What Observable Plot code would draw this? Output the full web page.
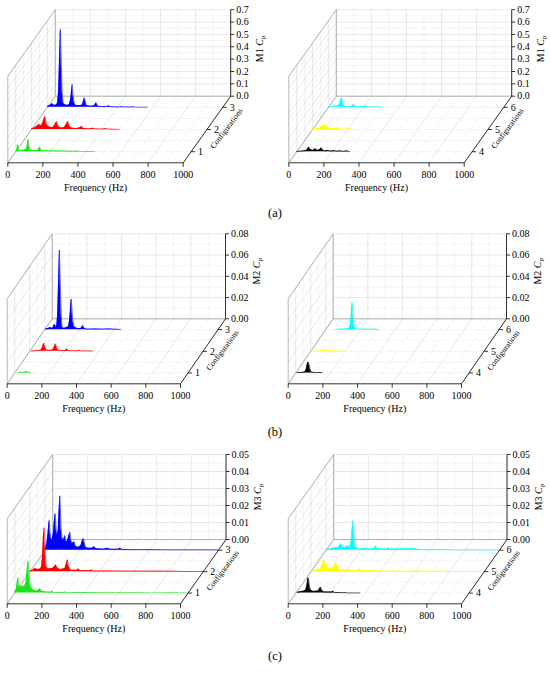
<!DOCTYPE html>
<html><head><meta charset="utf-8">
<script src="https://cdn.jsdelivr.net/npm/d3@7"></script>
<script src="https://cdn.jsdelivr.net/npm/@observablehq/plot@0.6"></script>
<style>
body{margin:0;background:#fff;}
#page{position:relative;width:550px;height:673px;background:#fff;font-family:"Liberation Serif","Times New Roman",serif;}
.pl{position:absolute;}
.pl text{font-family:"Liberation Serif","Times New Roman",serif !important;}
.lab{position:absolute;font-size:12.5px;width:40px;text-align:center;line-height:14px;color:#000;}
</style></head><body><div id="page"></div>
<script>
const SERIF = "Liberation Serif";
// ---------- axis ticks ----------
const freqTicks = [0, 200, 400, 600, 800, 1000];
const freqMinor = [100, 300, 500, 700, 900];
const m1Ticks = [0, 0.1, 0.2, 0.3, 0.4, 0.5, 0.6, 0.7];
const m1Minor = [0.05, 0.15, 0.25, 0.35, 0.45, 0.55, 0.65];
const m2Ticks = [0, 0.02, 0.04, 0.06, 0.08];
const m2Minor = [0.01, 0.03, 0.05, 0.07];
const m3Ticks = [0, 0.01, 0.02, 0.03, 0.04, 0.05];
const m3Minor = [0.005, 0.015, 0.025, 0.035, 0.045];
const configsLeft = ["1", "2", "3"];
const configsRight = ["4", "5", "6"];
const panelLabels = ["(a)", "(b)", "(c)"];

// ---------- spectra [frequency Hz, Cp] ----------
// M1
const m1c1 = [[0,0.004],[6,0.012],[12,0.058],[18,0.012],[25,0.008],[45,0.012],[60,0.02],[66,0.055],[71,0.10],[76,0.05],[82,0.015],[100,0.008],[126,0.01],[132,0.022],[137,0.04],[142,0.02],[148,0.008],[170,0.006],[176,0.014],[182,0.006],[205,0.006],[211,0.012],[217,0.005],[240,0.004],[246,0.01],[252,0.004],[280,0.004],[285,0.008],[290,0.003],[340,0.003],[350,0.005],[360,0.002],[450,0.001]];
const m1c2 = [[0,0.005],[15,0.012],[30,0.025],[42,0.04],[55,0.03],[64,0.05],[70,0.08],[74,0.1],[76,0.105],[79,0.085],[84,0.05],[90,0.03],[100,0.02],[120,0.015],[132,0.035],[138,0.05],[143,0.065],[148,0.04],[155,0.02],[168,0.012],[185,0.015],[196,0.035],[202,0.05],[207,0.065],[212,0.045],[219,0.02],[232,0.01],[260,0.008],[276,0.015],[285,0.025],[293,0.01],[320,0.005],[341,0.006],[350,0.012],[358,0.005],[400,0.003],[414,0.004],[422,0.008],[430,0.003],[500,0.001]];
const m1c3 = [[0,0.006],[15,0.015],[28,0.028],[40,0.015],[52,0.02],[58,0.035],[64,0.13],[68,0.32],[72,0.52],[74,0.63],[76,0.52],[80,0.32],[84,0.13],[90,0.035],[100,0.02],[115,0.015],[126,0.025],[132,0.06],[136,0.1],[139,0.15],[141,0.185],[143,0.15],[146,0.1],[150,0.06],[156,0.02],[170,0.012],[192,0.015],[200,0.02],[205,0.045],[209,0.068],[211,0.077],[213,0.068],[217,0.045],[222,0.015],[235,0.01],[255,0.008],[268,0.012],[274,0.026],[278,0.036],[282,0.024],[288,0.009],[310,0.005],[342,0.006],[350,0.012],[358,0.005],[400,0.002],[413,0.003],[420,0.006],[427,0.003],[480,0.002],[490,0.004],[500,0.001],[570,0.001]];
const m1c4 = [[0,0.002],[30,0.004],[55,0.01],[62,0.02],[69,0.038],[76,0.02],[90,0.01],[100,0.015],[107,0.025],[113,0.012],[125,0.012],[134,0.02],[140,0.032],[146,0.015],[160,0.006],[177,0.01],[190,0.004],[212,0.008],[225,0.003],[250,0.005],[265,0.002],[284,0.006],[300,0.001]];
const m1c5 = [[0,0.003],[15,0.008],[23,0.01],[35,0.008],[48,0.02],[56,0.033],[64,0.036],[74,0.036],[82,0.02],[95,0.008],[125,0.006],[134,0.01],[141,0.014],[148,0.008],[160,0.003],[200,0.003],[207,0.005],[215,0.002],[240,0.001]];
const m1c6 = [[0,0.002],[20,0.004],[40,0.01],[55,0.01],[63,0.02],[69,0.05],[73,0.07],[75,0.078],[78,0.06],[82,0.035],[88,0.012],[100,0.005],[133,0.008],[140,0.016],[145,0.024],[151,0.01],[165,0.004],[204,0.006],[211,0.012],[218,0.005],[240,0.002],[272,0.003],[278,0.006],[284,0.002],[310,0.001]];
// M2
const m2c1 = [[20,0.0002],[33,0.0006],[45,0.0004],[60,0.0006],[72,0.0012],[80,0.0005],[92,0.0001]];
const m2c2 = [[10,0.0002],[40,0.0005],[65,0.001],[72,0.003],[77,0.0058],[81,0.0078],[85,0.0058],[90,0.003],[100,0.0008],[130,0.001],[140,0.003],[145,0.0052],[149,0.007],[153,0.0052],[158,0.0025],[170,0.0006],[205,0.0008],[216,0.002],[226,0.0006],[280,0.0004],[287,0.001],[295,0.0003],[350,0.0002],[356,0.0005],[365,0.0001]];
const m2c3 = [[5,0.0005],[20,0.001],[33,0.002],[45,0.001],[57,0.005],[66,0.002],[70,0.004],[75,0.015],[79,0.038],[83,0.062],[85,0.075],[87,0.062],[91,0.038],[95,0.015],[100,0.003],[110,0.001],[126,0.002],[138,0.003],[143,0.008],[147,0.015],[151,0.024],[153,0.0288],[155,0.024],[159,0.015],[163,0.008],[168,0.003],[184,0.0012],[200,0.0008],[213,0.0015],[220,0.0038],[227,0.0015],[240,0.0004],[290,0.0005],[340,0.0004],[360,0.0006],[400,0.0003],[437,0.0002]];
const m2c4 = [[8,0.0002],[16,0.0004],[40,0.0004],[56,0.0012],[62,0.004],[66,0.0075],[70,0.0095],[72,0.0102],[74,0.0095],[78,0.0075],[82,0.004],[88,0.001],[110,0.0003],[143,0.0005],[153,0.0001]];
const m2c5 = [[18,0.0002],[50,0.0003],[68,0.0008],[76,0.0018],[84,0.0008],[110,0.0003],[150,0.0003],[200,0.0001]];
const m2c6 = [[57,0.0002],[90,0.0004],[110,0.0005],[125,0.0006],[138,0.0015],[143,0.005],[147,0.012],[151,0.021],[153,0.0258],[155,0.021],[159,0.012],[163,0.005],[168,0.0015],[180,0.0004],[220,0.0003],[280,0.0003],[287,0.0006],[295,0.0002],[306,0.0001]];
// M3
const m3c1 = [[0,0.0005],[8,0.002],[13,0.005],[16,0.008],[18,0.0092],[21,0.0065],[25,0.004],[30,0.0035],[40,0.004],[55,0.004],[62,0.005],[66,0.007],[71,0.013],[75,0.017],[78,0.019],[82,0.013],[87,0.006],[95,0.003],[110,0.0015],[125,0.0012],[139,0.002],[145,0.0026],[152,0.0012],[175,0.0006],[210,0.0005],[216,0.0011],[222,0.0004],[280,0.0004],[290,0.0006],[300,0.0002],[360,0.0004],[430,0.0003],[500,0.0002],[600,0.0002],[700,0.0002],[800,0.0001],[900,0.0002],[1000,0.0001]];
const m3c2 = [[0,0.0004],[20,0.001],[29,0.002],[40,0.0012],[60,0.0015],[68,0.003],[73,0.01],[77,0.019],[81,0.0258],[85,0.019],[89,0.01],[94,0.003],[105,0.0015],[130,0.0018],[142,0.003],[149,0.004],[156,0.0025],[175,0.001],[203,0.002],[210,0.0045],[216,0.007],[222,0.0035],[235,0.0008],[270,0.0008],[280,0.0016],[290,0.0006],[345,0.0005],[356,0.001],[365,0.0003],[430,0.0004],[500,0.0003],[600,0.0003],[700,0.0002],[800,0.0002],[900,0.0001],[1000,0.0001]];
const m3c3 = [[0,0.001],[10,0.004],[17,0.01],[21,0.015],[24,0.0175],[28,0.011],[33,0.007],[40,0.006],[48,0.01],[54,0.018],[58,0.0214],[62,0.015],[67,0.009],[72,0.01],[76,0.012],[80,0.022],[83,0.029],[85,0.032],[88,0.025],[92,0.013],[98,0.007],[104,0.006],[110,0.007],[114,0.0086],[119,0.0055],[128,0.005],[136,0.008],[140,0.0095],[143,0.0106],[148,0.006],[156,0.004],[164,0.0045],[168,0.005],[176,0.002],[195,0.0018],[208,0.003],[215,0.0055],[219,0.0065],[222,0.0067],[227,0.004],[235,0.0015],[250,0.0012],[270,0.0012],[283,0.002],[295,0.0008],[340,0.0006],[361,0.0012],[375,0.0005],[420,0.0005],[433,0.0012],[445,0.0004],[500,0.0003],[600,0.0003],[700,0.0002],[800,0.0002],[900,0.0002],[1000,0.0001]];
const m3c4 = [[8,0.0003],[25,0.0008],[40,0.001],[55,0.0015],[62,0.003],[67,0.0065],[70,0.0085],[72,0.009],[75,0.0075],[79,0.004],[85,0.0018],[100,0.001],[130,0.0012],[137,0.0025],[143,0.0035],[149,0.002],[160,0.0006],[210,0.0006],[216,0.0011],[222,0.0004],[280,0.0002],[287,0.0004],[295,0.0001],[370,0.0001]];
const m3c5 = [[8,0.0003],[30,0.0008],[50,0.0015],[62,0.003],[70,0.006],[76,0.007],[82,0.005],[95,0.0025],[110,0.0015],[125,0.002],[138,0.004],[147,0.005],[155,0.003],[170,0.001],[205,0.0008],[216,0.0015],[225,0.0006],[270,0.0007],[282,0.0015],[292,0.0005],[350,0.0006],[420,0.0003],[500,0.0002],[600,0.0002],[700,0.0002],[800,0.0001],[900,0.0001],[1000,0.0001]];
const m3c6 = [[0,0.0003],[30,0.0008],[56,0.0015],[70,0.0015],[80,0.003],[85,0.004],[92,0.002],[110,0.0015],[120,0.0025],[124,0.0028],[130,0.0015],[142,0.003],[147,0.007],[151,0.013],[155,0.0175],[159,0.012],[163,0.006],[168,0.002],[190,0.0006],[230,0.0012],[245,0.0005],[280,0.0012],[287,0.0026],[294,0.001],[350,0.0006],[360,0.0015],[370,0.0005],[432,0.0008],[499,0.0008],[560,0.0003],[650,0.0003],[750,0.0002],[850,0.0002],[1000,0.0001]];

const colorsLeft = ["#19e619", "#ff0000", "#0000ff"];
const colorsRight = ["#000000", "#ffff00", "#00ffff"];

// ---------- layout (pixels) ----------
const rows = [
  {top: 0,   ox: 7.3, oy: 162.3, fx: 175.4, hz: 86.5, ddx: 47.5, ddy: 66.6, titleShift: 29, titleDy: -4,
   max: 0.7, ticks: m1Ticks, minor: m1Minor, fmt: d3.format(".1f"), title: "M1 Cp", left: [m1c1, m1c2, m1c3], right: [m1c4, m1c5, m1c6]},
  {top: 220, ox: 6.7, oy: 163.3, fx: 173.3, hz: 85, ddx: 45, ddy: 65, titleShift: 31.5, titleDy: -5,
   max: 0.08, ticks: m2Ticks, minor: m2Minor, fmt: d3.format(".2f"), title: "M2 Cp", left: [m2c1, m2c2, m2c3], right: [m2c4, m2c5, m2c6]},
  {top: 440, ox: 6.7, oy: 163.3, fx: 173.3, hz: 85, ddx: 45.5, ddy: 64.3, titleShift: 31.5, titleDy: 0,
   max: 0.05, ticks: m3Ticks, minor: m3Minor, fmt: d3.format(".2f"), title: "M3 Cp", left: [m3c1, m3c2, m3c3], right: [m3c4, m3c5, m3c6]}
];
const depthMajor = [1/6, 1/2, 5/6];
const depthMinor = [1/3, 2/3];

function panel(r, series, colors, cfgLabels, width) {
  const DX = r.ddx / r.fx * 1000;     // freq units per unit depth
  const DY = r.ddy / r.hz * r.max;    // Cp units per unit depth
  const pxX = 1000 / r.fx, pxY = r.max / r.hz;
  const X = (f, d) => f + d * DX;
  const Y = (c, d) => c + d * DY;
  const seg = (f1, d1, c1, f2, d2, c2) => ({x1: X(f1, d1), y1: Y(c1, d1), x2: X(f2, d2), y2: Y(c2, d2)});
  const major = [], minor = [], edges = [], axes = [], ticks = [];
  // back wall
  for (const f of freqMinor) minor.push(seg(f, 1, 0, f, 1, r.max));
  for (const c of r.minor) minor.push(seg(0, 1, c, 1000, 1, c));
  for (const f of freqTicks) major.push(seg(f, 1, 0, f, 1, r.max));
  for (const c of r.ticks) major.push(seg(0, 1, c, 1000, 1, c));
  // floor
  for (const f of freqMinor) minor.push(seg(f, 0, 0, f, 1, 0));
  for (const d of depthMinor) minor.push(seg(0, d, 0, 1000, d, 0));
  for (const f of freqTicks) major.push(seg(f, 0, 0, f, 1, 0));
  for (const d of depthMajor) minor.push(seg(0, d, 0, 1000, d, 0));
  // left wall
  for (const c of r.minor) minor.push(seg(0, 0, c, 0, 1, c));
  for (const d of depthMinor) minor.push(seg(0, d, 0, 0, d, r.max));
  for (const c of r.ticks) major.push(seg(0, 0, c, 0, 1, c));
  for (const d of depthMajor) major.push(seg(0, d, 0, 0, d, r.max));
  // box edges
  edges.push(seg(0, 0, 0, 0, 0, r.max), seg(0, 0, r.max, 0, 1, r.max), seg(0, 1, 0, 0, 1, r.max),
             seg(0, 0, 0, 0, 1, 0), seg(0, 1, 0, 1000, 1, 0));
  // axes
  axes.push(seg(0, 0, 0, 1000, 0, 0), seg(1000, 0, 0, 1000, 1, 0), seg(1000, 1, 0, 1000, 1, r.max));
  for (const f of freqTicks) ticks.push({x1: X(f, 0), y1: Y(0, 0), x2: X(f, 0), y2: Y(0, 0) - 4 * pxY});
  for (const c of r.ticks) ticks.push({x1: X(1000, 1), y1: Y(c, 1), x2: X(1000, 1) + 3.5 * pxX, y2: Y(c, 1)});
  for (const d of depthMajor) ticks.push({x1: X(1000, d), y1: Y(0, d), x2: X(1000, d) + 4 * pxX, y2: Y(0, d)});

  const marks = [
    Plot.link(minor, {x1: "x1", y1: "y1", x2: "x2", y2: "y2", stroke: "#e8e8e8", strokeWidth: 0.5}),
    Plot.link(major, {x1: "x1", y1: "y1", x2: "x2", y2: "y2", stroke: "#d0d0d0", strokeWidth: 0.5}),
    Plot.link(edges, {x1: "x1", y1: "y1", x2: "x2", y2: "y2", stroke: "#9a9a9a", strokeWidth: 0.7})
  ];
  for (let i = 2; i >= 0; i--) {
    const d = depthMajor[i];
    marks.push(Plot.areaY(series[i], {x: p => X(p[0], d), y1: () => Y(0, d), y2: p => Y(p[1], d), fill: colors[i], curve: "linear"}));
    marks.push(Plot.line(series[i], {x: p => X(p[0], d), y: p => Y(p[1], d), stroke: colors[i], strokeWidth: 0.6, curve: "linear"}));
  }
  const tf = {fontFamily: SERIF, fill: "#000"};
  marks.push(
    Plot.link(axes, {x1: "x1", y1: "y1", x2: "x2", y2: "y2", stroke: "#000", strokeWidth: 0.8}),
    Plot.link(ticks, {x1: "x1", y1: "y1", x2: "x2", y2: "y2", stroke: "#000", strokeWidth: 0.8}),
    Plot.text(freqTicks, {...tf, x: f => X(f, 0), y: () => Y(0, 0), dy: 12, text: f => String(f), fontSize: 10}),
    Plot.text(["Frequency (Hz)"], {...tf, x: () => X(500, 0), y: () => Y(0, 0), dy: 24.5, text: t => t, fontSize: 10}),
    Plot.text(r.ticks, {...tf, x: () => X(1000, 1), y: c => Y(c, 1), dx: 5.5, text: c => r.fmt(c), textAnchor: "start", fontSize: 10}),
    Plot.text([r.title], {...tf, x: () => X(1000, 1), y: () => Y(r.max / 2, 1), dx: r.titleShift, dy: r.titleDy, text: t => t, rotate: -90, fontSize: 10}),
    Plot.text(cfgLabels, {...tf, x: (t, i) => X(1000, depthMajor[i]), y: (t, i) => Y(0, depthMajor[i]), dx: 9.5, text: t => t, fontSize: 10}),
    Plot.text(["Configurations"], {...tf, x: () => X(1000, 0.5), y: () => Y(0, 0.5), dx: 19.5, dy: -1, text: t => t, rotate: -53, fontSize: 8})
  );
  const svg = Plot.plot({
    width, height: 200,
    marginTop: 0, marginRight: 0, marginBottom: 0, marginLeft: 0,
    x: {axis: null, type: "linear", domain: [0, 1000], range: [r.ox, r.ox + r.fx]},
    y: {axis: null, type: "linear", domain: [0, r.max], range: [r.oy, r.oy - r.hz]},
    style: {fontSize: "10px", background: "white", color: "#000", overflow: "visible"},
    marks
  });
  d3.select(svg).attr("font-family", "Liberation Serif, serif").style("font-family", "'Liberation Serif', serif");
  // italic C with subscript p in the vertical axis title
  d3.select(svg).selectAll("text").each(function () {
    if (this.textContent === r.title) {
      const t = d3.select(this);
      t.text(null);
      t.append("tspan").text(r.title.split(" ")[0] + " ");
      t.append("tspan").attr("font-style", "italic").text("C");
      t.append("tspan").attr("font-size", "7").attr("dy", "2").text("p");
    }
  });
  return svg;
}

const page = document.getElementById("page");
rows.forEach((r, k) => {
  const a = panel(r, r.left, colorsLeft, configsLeft, 281);
  a.classList.add("pl"); a.style.left = "0px"; a.style.top = r.top + "px";
  page.appendChild(a);
  const b = panel(r, r.right, colorsRight, configsRight, 269);
  b.classList.add("pl"); b.style.left = "281px"; b.style.top = r.top + "px";
  page.appendChild(b);
});
const labTops = [206, 425, 649];
panelLabels.forEach((t, k) => {
  const d = document.createElement("div");
  d.className = "lab"; d.textContent = t;
  d.style.left = "255px"; d.style.top = labTops[k] + "px";
  page.appendChild(d);
});
</script></body></html>
